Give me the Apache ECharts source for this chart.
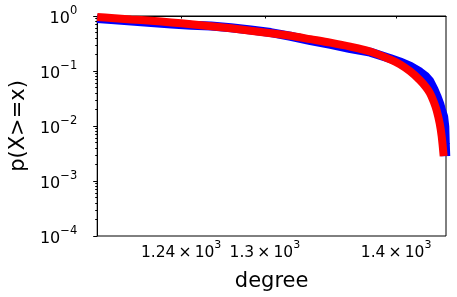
<!DOCTYPE html>
<html>
<head>
<meta charset="utf-8">
<script src="https://cdn.jsdelivr.net/npm/echarts@6/dist/echarts.min.js"></script>
<style>
html,body{margin:0;padding:0;background:#fff;}
#chart{width:457px;height:297px;}
</style>
</head>
<body>
<div id="chart"></div>
<script>
// Empirical CCDF (blue)
var empDegree = [1182.6, 1192.0, 1205.5, 1219.1, 1233.1, 1247.0, 1261.1, 1275.3, 1289.7, 1304.3, 1319.0, 1333.9, 1349.0, 1364.2, 1379.6, 1395.2, 1403.1, 1411.0, 1418.9, 1423.7, 1426.9, 1430.1, 1432.5, 1434.9, 1436.5, 1438.1, 1439.0, 1439.4, 1439.8];
var empProb = [0.900, 0.862, 0.808, 0.765, 0.718, 0.678, 0.655, 0.612, 0.556, 0.500, 0.428, 0.358, 0.304, 0.2560, 0.2200, 0.1693, 0.1460, 0.1230, 0.0960, 0.0790, 0.0650, 0.0471, 0.0352, 0.0253, 0.0190, 0.0148, 0.0098, 0.00485, 0.00284];
// Fitted CCDF (red)
var fitDegree = [1182.6, 1192.0, 1205.5, 1219.1, 1233.1, 1247.0, 1261.1, 1275.3, 1289.7, 1304.3, 1319.0, 1333.9, 1349.0, 1364.2, 1379.6, 1395.2, 1403.1, 1411.0, 1418.9, 1423.7, 1426.9, 1430.1, 1432.5, 1434.9, 1436.5, 1438.1];
var fitProb = [0.9595, 0.9207, 0.8655, 0.820, 0.7646, 0.7097, 0.6535, 0.5966, 0.5382, 0.4854, 0.4378, 0.3790, 0.3280, 0.2779, 0.2261, 0.1625, 0.1322, 0.0990, 0.0682, 0.0511, 0.0399, 0.0275, 0.01897, 0.01109, 0.00648, 0.00284];
// Axis ticks
var xTicks = [1240, 1300, 1400];
var xTickMant = ['1.24', '1.3', '1.4'];
var xTickExp = ['3', '3', '3'];
var xRange = [1182.6, 1440];
var yTickExp = [0, -1, -2, -3, -4];
var yTickExpText = ['0', '\u22121', '\u22122', '\u22123', '\u22124'];
var xTitle = 'degree';
var yTitle = 'p(X>=x)';

var L = Math.log10;
function pairs(xs, ys){ return xs.map(function(x,i){ return [L(x), L(ys[i])]; }); }
var xTickVals = xTicks.map(L);
var yMinor = [];
for (var e = -4; e < 0; e++) for (var k = 2; k <= 9; k++) yMinor.push(e + L(k));

var FONT = 'DejaVu Sans';
var richY = {
  n: {fontFamily: FONT, fontSize: 16, color: '#000', lineHeight: 22, verticalAlign: 'bottom'},
  s: {fontFamily: FONT, fontSize: 11.5, color: '#000', lineHeight: 22, verticalAlign: 'top'}
};
var richX = {
  n: {fontFamily: FONT, fontSize: 15.5, color: '#000', lineHeight: 21, verticalAlign: 'bottom'},
  s: {fontFamily: FONT, fontSize: 11, color: '#000', lineHeight: 21, verticalAlign: 'top'}
};
var chart = echarts.init(document.getElementById('chart'), null, {renderer:'canvas'});
chart.setOption({
  animation: false,
  backgroundColor: '#fff',
  grid: {left: 96, right: 11, top: 16, bottom: 57, show: true, borderColor: '#000', borderWidth: 1, backgroundColor: 'transparent'},
  xAxis: {
    type: 'value', min: L(xRange[0]), max: L(xRange[1]),
    name: xTitle, nameLocation: 'middle', nameGap: 35,
    nameTextStyle: {fontFamily: FONT, fontSize: 21, color: '#000'},
    axisLine: {show: true, lineStyle: {color: '#000', width: 1}},
    splitLine: {show: false},
    axisTick: {show: true, length: 2.5, customValues: xTickVals, lineStyle: {color: '#000'}},
    axisLabel: {show: true, customValues: xTickVals, margin: 4, rich: richX,
      formatter: function(v){ var i = xTickVals.findIndex(function(t){return Math.abs(t-v)<1e-6;}); return i>=0 ? '{n|' + xTickMant[i] + '\u2009×\u200910}{s|' + xTickExp[i] + '}' : ''; }}
  },
  yAxis: [{
    type: 'value', min: -4, max: 0, interval: 1,
    name: yTitle, nameLocation: 'middle', nameGap: 66, nameRotate: 90,
    nameTextStyle: {fontFamily: FONT, fontSize: 21, color: '#000'},
    axisLine: {show: true, lineStyle: {color: '#000', width: 1}},
    splitLine: {show: false},
    axisTick: {show: true, length: 4, lineStyle: {color: '#000'}},
    axisLabel: {show: true, margin: 20, rich: richY,
      formatter: function(v){ var i = yTickExp.indexOf(Math.round(v)); return i>=0 ? '{n|10}{s|' + yTickExpText[i] + '}' : ''; }}
  },{
    type: 'value', min: -4, max: 0, position: 'left',
    axisLine: {show: false}, splitLine: {show: false},
    axisTick: {show: true, length: 2, customValues: yMinor, lineStyle: {color: '#000'}},
    axisLabel: {show: false}
  }],
  series: [{
    type: 'line', data: pairs(empDegree, empProb), showSymbol: false, symbol: 'none',
    lineStyle: {color: '#0000ff', width: 9}, z: 2
  },{
    type: 'line', data: pairs(fitDegree, fitProb), showSymbol: false, symbol: 'none', smooth: 0.3,
    lineStyle: {color: '#ff0000', width: 8}, z: 3
  }]
});
</script>
</body>
</html>
